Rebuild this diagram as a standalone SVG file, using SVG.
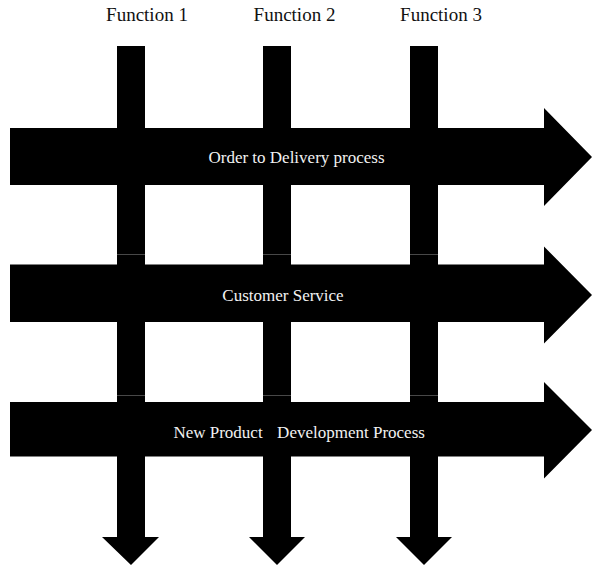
<svg xmlns="http://www.w3.org/2000/svg" width="592" height="568" viewBox="0 0 592 568">
  <style>
    .shape { fill: #000; }
    .seam { stroke: #5a5a5a; stroke-width: 0.8; }
    .head { font-family: "Liberation Serif", "Times New Roman", serif; font-size: 19px; fill: #111; text-anchor: middle; }
    .proc { font-family: "Liberation Serif", "Times New Roman", serif; font-size: 17px; fill: #f2f2f2; text-anchor: middle; }
  </style>
  <rect width="592" height="568" fill="#fff"/>

  <!-- Function columns: vertical arrows pointing down -->
  <g id="function-1">
    <text class="head" x="147" y="21">Function 1</text>
    <path class="shape" d="M117,46 H145 V537 H159 L131,565 L102,537 H117 Z"/>
    <line class="seam" x1="117" y1="254.5" x2="145" y2="254.5"/>
    <line class="seam" x1="117" y1="395.5" x2="145" y2="395.5"/>
  </g>
  <g id="function-2">
    <text class="head" x="294.5" y="21">Function 2</text>
    <path class="shape" d="M263,46 H291 V537 H305 L277,565 L249,537 H263 Z"/>
    <line class="seam" x1="263" y1="254.5" x2="291" y2="254.5"/>
    <line class="seam" x1="263" y1="395.5" x2="291" y2="395.5"/>
  </g>
  <g id="function-3">
    <text class="head" x="441" y="21">Function 3</text>
    <path class="shape" d="M410,46 H438 V537 H452 L424,565 L396,537 H410 Z"/>
    <line class="seam" x1="410" y1="254.5" x2="438" y2="254.5"/>
    <line class="seam" x1="410" y1="395.5" x2="438" y2="395.5"/>
  </g>

  <!-- Cross-functional processes: horizontal arrows pointing right -->
  <g id="process-order-to-delivery">
    <path class="shape" d="M10,128 H544 V108 L592,157 L544,206 V185 H10 Z"/>
    <text class="proc" x="296.5" y="163">Order to Delivery process</text>
  </g>
  <g id="process-customer-service">
    <path class="shape" d="M10,264.5 H544 V246.5 L592,295 L544,343.5 V322 H10 Z"/>
    <text class="proc" x="283" y="301">Customer Service</text>
  </g>
  <g id="process-new-product-development">
    <path class="shape" d="M10,402 H544 V382 L592,430 L544,478.5 V456.5 H10 Z"/>
    <text class="proc" x="218" y="437.5">New Product</text>
    <text class="proc" x="351" y="437.5">Development Process</text>
  </g>
</svg>
